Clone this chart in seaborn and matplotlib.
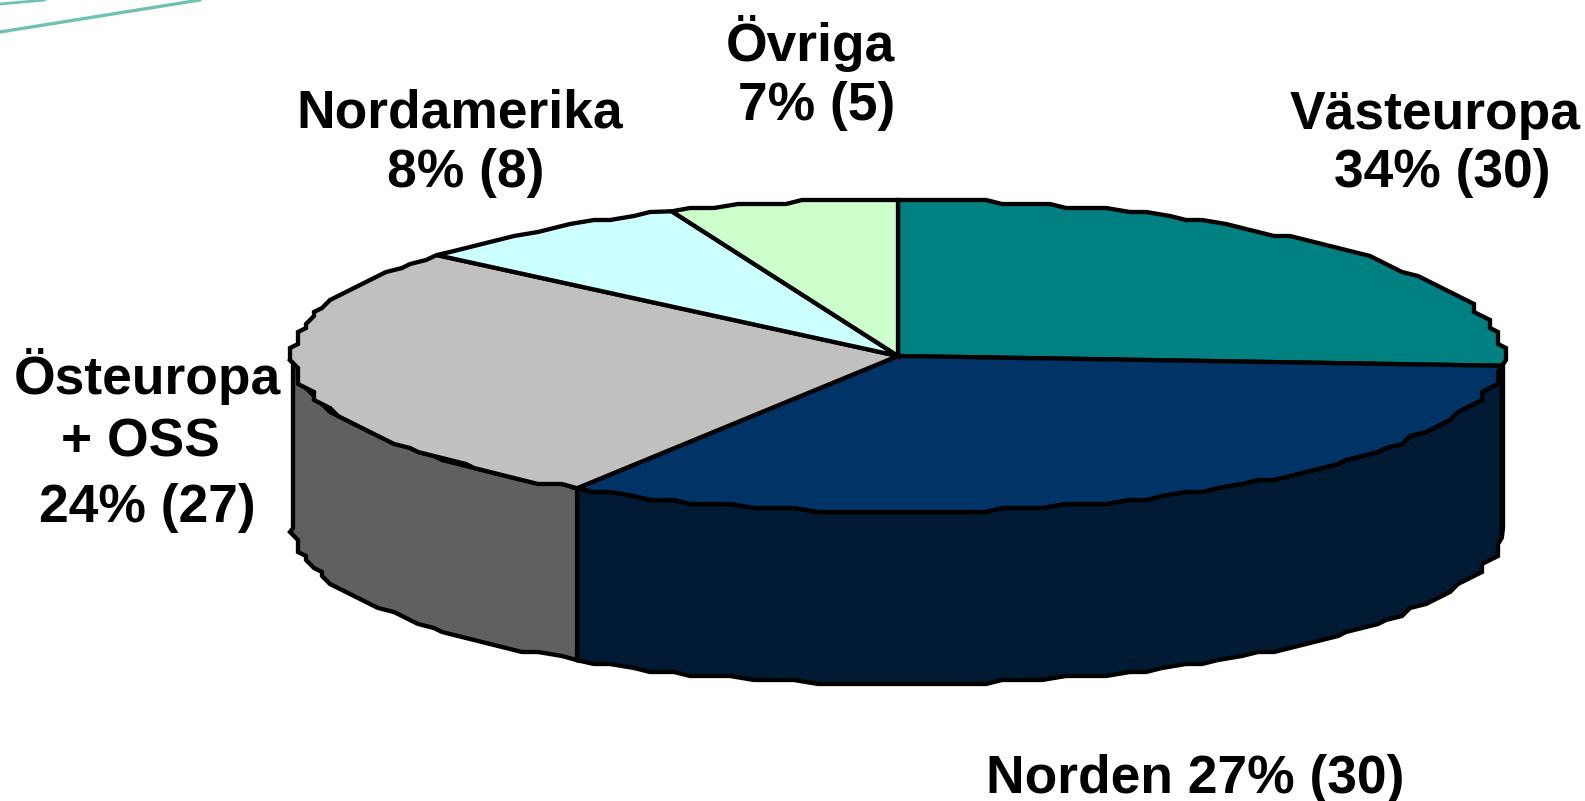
import numpy as np
from matplotlib import pyplot as plt
import seaborn as sns

# Shares as drawn in the picture (the slices are not in proportion to the printed %)
regions = ["Västeuropa", "Norden", "Östeuropa + OSS", "Nordamerika", "Övriga"]
drawn_shares = [26, 32.9, 27.3, 7.7, 6.1]
top_colors = ["#008080", "#003366", "#C0C0C0", "#CCFFFF", "#CCFFCC"]
side_colors = ["#000000", "#001A33", "#606060", "#668080", "#668066"]

# One entry per printed line of text
label_lines = ["Västeuropa", "34% (30)", "Norden 27% (30)", "Östeuropa", "+ OSS", "24% (27)",
               "Nordamerika", "8% (8)", "Övriga", "7% (5)"]
line_x = [1435, 1442, 1195, 147.5, 140, 147, 459.5, 466, 810.5, 817]
line_y = [129, 187, 793, 394, 457, 522, 128, 187, 61, 120]

W, H = 1585, 801
CX, CY = 898, 356
RX, RY = 605, 156
DEPTH = 172 / RY
LW = 3.1


def rim(a, b):
    # the original rim is a coarse, stepped outline, so snap it to a rough grid
    n = max(int(abs(b - a) / 2), 1) + 1
    t = np.radians(np.linspace(a, b, n))
    xs = np.round(np.cos(t) * RX / 8) * 8 / RX
    ys = np.round(np.sin(t) * RY / 4) * 4 / RY
    xs[0], ys[0] = np.cos(t[0]), np.sin(t[0])
    xs[-1], ys[-1] = np.cos(t[-1]), np.sin(t[-1])
    return xs, ys


sns.set_theme(style="white")
plt.rcParams["font.family"] = ["Liberation Sans", "DejaVu Sans"]

fig = plt.figure(figsize=(W / 100, H / 100), dpi=100)
ax = fig.add_axes([0, 0, 1, 1])

# Decoration lines in the top left corner
fig.add_artist(plt.Line2D([0, 200 / W], [1 - 32 / H, 1.0], color="#6FC2B2", lw=2.4))
fig.add_artist(plt.Line2D([0, 45 / W], [1 - 4 / H, 1.0], color="#6FC2B2", lw=2))

# Side wall first, only the front half of the pie shows it
angle = 90.0
for share, col in zip(drawn_shares, side_colors):
    end = angle - share * 3.6
    for shift in (0, -360):
        a = max(end + shift, -180)
        b = min(angle + shift, 0)
        if b > a:
            xs, ys = rim(a, b)
            ax.fill(np.r_[xs, xs[::-1]], np.r_[ys, ys[::-1] - DEPTH],
                    facecolor=col, edgecolor="black", lw=LW, zorder=1)
    angle = end

# Top of the pie
angle = 90.0
for share, col in zip(drawn_shares, top_colors):
    end = angle - share * 3.6
    xs, ys = rim(angle, end)
    ax.fill(np.r_[0, xs], np.r_[0, ys], facecolor=col, edgecolor="black", lw=LW, zorder=2)
    angle = end

ax.set_aspect("auto")
ax.set_xlim(-CX / RX, (W - CX) / RX)
ax.set_ylim((CY - H) / RY, CY / RY)
ax.axis("off")

for txt, lx, ly in zip(label_lines, line_x, line_y):
    fig.text(lx / W, 1 - ly / H, txt, ha="center", va="baseline", fontsize=38.4,
             fontweight="bold", color="black")

plt.savefig("out.png", dpi=100)
